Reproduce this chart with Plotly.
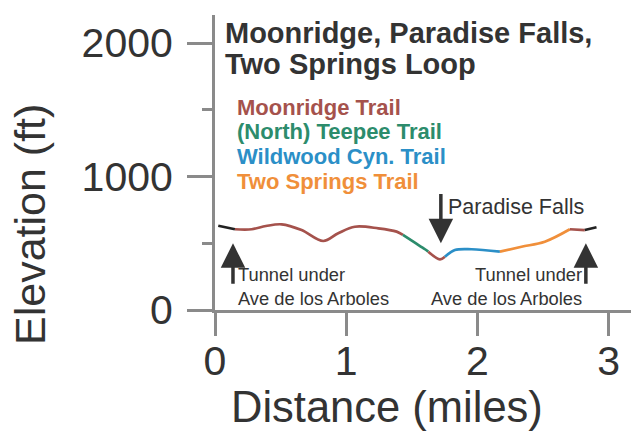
import plotly.graph_objects as go

# Distance (miles) and elevation (ft) read from the profile
dist = [0.025, 0.152, 0.280, 0.388, 0.508, 0.660, 0.825, 0.939, 1.066, 1.244, 1.384, 1.432,
        1.523, 1.600, 1.625, 1.714, 1.752, 1.828, 1.955, 2.171, 2.336, 2.513, 2.704, 2.818, 2.907]
elev = [631, 605, 605, 629, 642, 599, 517, 575, 624, 612, 587, 562,
        504, 455, 437, 380, 399, 449, 455, 437, 474, 512, 605, 599, 620]

# Segments: (trail name, start index, end index, colour)
segments = [
    ("Access", 0, 1, "#222222"),
    ("Moonridge Trail", 1, 11, "#a5524c"),
    ("(North) Teepee Trail", 11, 14, "#2c8c6c"),
    ("Moonridge Trail", 14, 16, "#a5524c"),
    ("Wildwood Cyn. Trail", 16, 19, "#2b8fc7"),
    ("Two Springs Trail", 19, 22, "#f08f3a"),
    ("Moonridge Trail", 22, 23, "#a5524c"),
    ("Access", 23, 24, "#222222"),
]

legend_names = ["Moonridge Trail", "(North) Teepee Trail", "Wildwood Cyn. Trail", "Two Springs Trail"]
legend_colors = ["#a5524c", "#2c8c6c", "#2b8fc7", "#f08f3a"]

title_lines = ["Moonridge, Paradise Falls,", "Two Springs Loop"]

x_ticks = [0, 1, 2, 3]
y_ticks = [0, 1000, 2000]

FONT = "Liberation Sans"
AXC = "#8a8a8a"
TXT = "#333333"

fig = go.Figure()
for name, i0, i1, col in segments:
    fig.add_trace(go.Scatter(x=dist[i0:i1 + 1], y=elev[i0:i1 + 1], mode="lines",
                             line=dict(color=col, width=2.7, shape="spline"),
                             name=name, showlegend=False, hoverinfo="skip"))

ann = []
# title
for k, t in enumerate(title_lines):
    ann.append(dict(xref="paper", yref="paper", x=0, y=1.0, xanchor="left", yanchor="middle",
                    text="<b>%s</b>" % t, showarrow=False,
                    font=dict(family=FONT, size=29, color=TXT), xshift=8, yshift=-(18 + 31 * k)))
# legend texts
for k, (nm, c) in enumerate(zip(legend_names, legend_colors)):
    ann.append(dict(xref="paper", yref="paper", x=0, y=1, xanchor="left", yanchor="middle",
                    text="<b>%s</b>" % nm, showarrow=False,
                    font=dict(family=FONT, size=22, color=c), xshift=20, yshift=-(92 + 24.8 * k)))
# axis titles
ann.append(dict(xref="paper", yref="paper", x=0, y=0, text="Elevation (ft)", textangle=-90,
                showarrow=False, font=dict(family=FONT, size=43, color=TXT),
                xanchor="center", yanchor="middle", xshift=-185, yshift=85))
ann.append(dict(xref="paper", yref="paper", x=0, y=0, text="Distance (miles)",
                showarrow=False, font=dict(family=FONT, size=43.5, color=TXT),
                xanchor="center", yanchor="middle", xshift=172, yshift=-97))
# arrows
arrow_common = dict(xref="x", yref="y", axref="x", ayref="y", showarrow=True, text="",
                    arrowhead=2, arrowsize=1.4, arrowwidth=3.5, arrowcolor="#333333")
ann.append(dict(x=0.137, y=500, ax=0.137, ay=185, **arrow_common))
ann.append(dict(x=2.826, y=500, ax=2.826, ay=185, **arrow_common))
ann.append(dict(x=1.721, y=500, ax=1.721, ay=880, **arrow_common))
# text labels
ann.append(dict(xref="x", yref="y", x=0.16, y=175, xanchor="left", yanchor="middle",
                text="Tunnel under<br>Ave de los Arboles", showarrow=False, align="left",
                font=dict(family=FONT, size=18.3, color=TXT)))
ann.append(dict(xref="x", yref="y", x=2.81, y=175, xanchor="right", yanchor="middle",
                text="Tunnel under<br>Ave de los Arboles", showarrow=False, align="right",
                font=dict(family=FONT, size=18.3, color=TXT)))
ann.append(dict(xref="x", yref="y", x=1.76, y=775, xanchor="left", yanchor="middle",
                text="Paradise Falls", showarrow=False,
                font=dict(family=FONT, size=21.5, color=TXT)))

fig.update_layout(
    width=631, height=442,
    margin=dict(l=215, r=0, t=15, b=132, autoexpand=False),
    paper_bgcolor="white", plot_bgcolor="white",
    showlegend=False,
    annotations=ann,
    font=dict(family=FONT, color=TXT),
    xaxis=dict(range=[0, 3.17], tickvals=x_ticks, ticktext=[str(v) for v in x_ticks],
               automargin=False,
               showgrid=False, zeroline=False, showline=True, linecolor=AXC, linewidth=3,
               ticks="outside", ticklen=23, tickwidth=3, tickcolor=AXC,
               tickfont=dict(family=FONT, size=41, color=TXT), ticklabelstandoff=-10),
    yaxis=dict(range=[0, 2210], tickvals=y_ticks, ticktext=[str(v) for v in y_ticks],
               automargin=False,
               showgrid=False, zeroline=False, showline=True, linecolor=AXC, linewidth=3,
               ticks="outside", ticklen=25, tickwidth=3, tickcolor=AXC,
               minor=dict(dtick=500, ticks="outside", ticklen=10, tickwidth=3, tickcolor=AXC),
               tickfont=dict(family=FONT, size=41, color=TXT), ticklabelstandoff=6),
)

fig.write_html("out.html", config={"displayModeBar": False},
               post_script="document.body.style.margin='0';")
